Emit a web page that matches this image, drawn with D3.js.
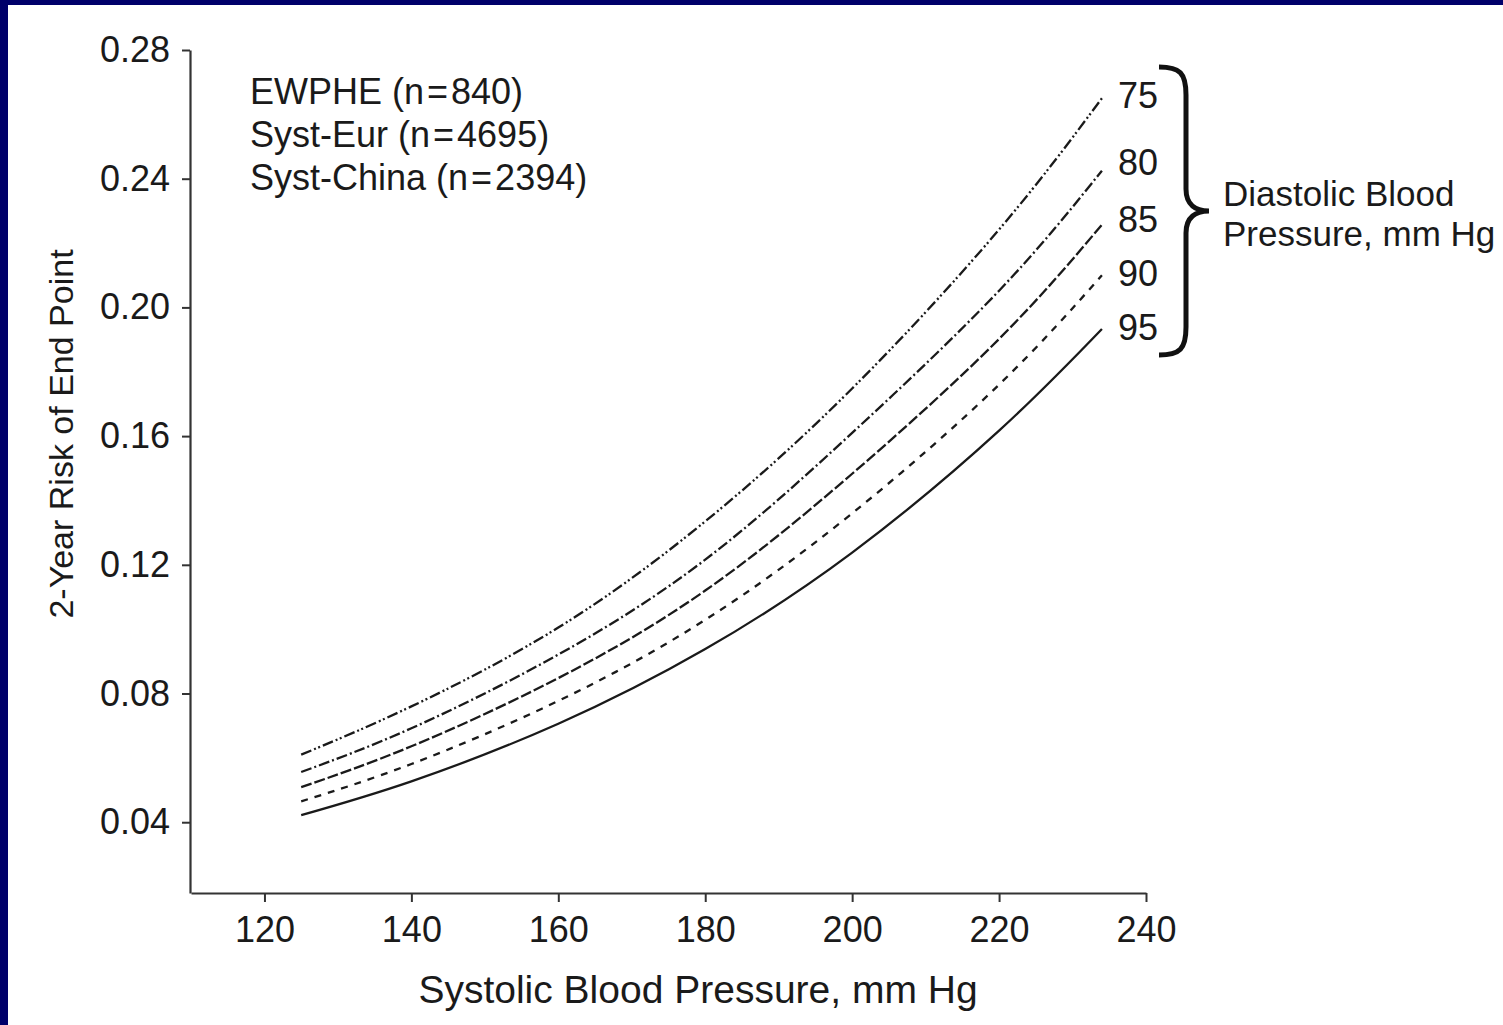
<!DOCTYPE html>
<html>
<head>
<meta charset="utf-8">
<script src="https://cdn.jsdelivr.net/npm/d3@7"></script>
<style>
  html, body { margin: 0; padding: 0; background: #fff; }
  #chart { width: 1503px; height: 1025px; }
  text { font-family: 'Liberation Sans', Arial, sans-serif; fill: #1a1a1a; }
</style>
</head>
<body>
<div id="chart"></div>
<script>
// systolic pressure samples (mm Hg)
const SBP = [125, 140, 160, 180, 200, 220, 234]

// diastolic groups and the 2-year risk
const DBP = ['75', '80', '85', '90', '95']
const RISK_75 = [0.061, 0.076, 0.1005, 0.1335, 0.1748, 0.2242, 0.265]
const RISK_80 = [0.0556, 0.0692, 0.0921, 0.1216, 0.1610, 0.2052, 0.2425]
const RISK_85 = [0.0509, 0.0636, 0.0848, 0.1120, 0.1483, 0.1902, 0.2257]
const RISK_90 = [0.0465, 0.0581, 0.0777, 0.1029, 0.1360, 0.1760, 0.2100]
const RISK_95 = [0.0422, 0.0527, 0.0706, 0.0938, 0.1238, 0.1617, 0.1933]

const X_TICKS = [120, 140, 160, 180, 200, 220, 240]
const Y_TICKS = [0.04, 0.08, 0.12, 0.16, 0.20, 0.24, 0.28]

const STUDIES = [
  'EWPHE (n\u200A=\u200A840)',
  'Syst-Eur (n\u200A=\u200A4695)',
  'Syst-China (n\u200A=\u200A2394)'
]

const DASHES = {
  '75': '11,3,2,2.5,2,3',
  '80': '11,3,2,3',
  '85': '11,3',
  '90': '7,7',
  '95': null
}

const series = DBP.map((d, i) => ({
  dbp: d,
  values: [RISK_75, RISK_80, RISK_85, RISK_90, RISK_95][i].map((r, j) => ({ sbp: SBP[j], risk: r }))
}))

const width = 1503
const height = 1025
const ink = '#1a1a1a'

const svg = d3.select('#chart').append('svg')
  .attr('width', width)
  .attr('height', height)

// navy frame strips (top + left), as in the slide
svg.append('rect').attr('x', 0).attr('y', 0).attr('width', width).attr('height', 5).attr('fill', '#00006a')
svg.append('rect').attr('x', 0).attr('y', 0).attr('width', 8).attr('height', height).attr('fill', '#00006a')

const x = d3.scaleLinear().domain([110, 240]).range([191, 1146])
const y = d3.scaleLinear().domain([0.018, 0.28]).range([893, 50])

const xAxis = svg.append('g')
  .attr('transform', `translate(0,${y.range()[0]})`)
  .call(d3.axisBottom(x).tickValues(X_TICKS).tickSize(9).tickPadding(14).tickSizeOuter(0))

const yAxis = svg.append('g')
  .attr('transform', `translate(${x.range()[0] - 1},0)`)
  .call(d3.axisLeft(y).tickValues(Y_TICKS).tickFormat(d3.format('.2f')).tickSize(8).tickPadding(12).tickSizeOuter(0))

;[xAxis, yAxis].forEach(g => {
  g.select('.domain').attr('stroke', '#333').attr('stroke-width', 2.2)
  g.selectAll('.tick line').attr('stroke', '#333').attr('stroke-width', 2)
  g.selectAll('.tick text')
    .attr('font-family', "'Liberation Sans', Arial, sans-serif")
    .attr('font-size', 36)
    .attr('fill', ink)
})

// axis titles
svg.append('text')
  .attr('x', 698).attr('y', 1003)
  .attr('text-anchor', 'middle')
  .attr('font-size', 39)
  .text('Systolic Blood Pressure, mm Hg')

svg.append('text')
  .attr('transform', 'translate(73,434) rotate(-90)')
  .attr('text-anchor', 'middle')
  .attr('font-size', 34)
  .text('2-Year Risk of End Point')

// study list
svg.append('g').selectAll('text')
  .data(STUDIES)
  .join('text')
  .attr('x', 250)
  .attr('y', (d, i) => 104 + i * 43)
  .attr('font-size', 36)
  .text(d => d)

// curves
const line = d3.line()
  .x(d => x(d.sbp))
  .y(d => y(d.risk))
  .curve(d3.curveNatural)

svg.append('g').selectAll('path')
  .data(series)
  .join('path')
  .attr('d', d => line(d.values))
  .attr('fill', 'none')
  .attr('stroke', ink)
  .attr('stroke-width', 2.3)
  .attr('stroke-dasharray', d => DASHES[d.dbp])

// diastolic labels at the curve ends
const labelNudge = { '75': -3, '80': -9, '85': -6, '90': -2, '95': -2 }
svg.append('g').selectAll('text')
  .data(series)
  .join('text')
  .attr('x', d => x(d.values[d.values.length - 1].sbp) + 16)
  .attr('y', d => y(d.values[d.values.length - 1].risk) + labelNudge[d.dbp] + 13)
  .attr('font-size', 36)
  .text(d => d.dbp)

// curly brace grouping the labels
const bTop = 67, bBot = 355, bMid = 211, bx = 1186
svg.append('path')
  .attr('d', `M1159,${bTop} C1180,${bTop} ${bx},${bTop + 6} ${bx},${bTop + 28}
    L${bx},${bMid - 22} C${bx},${bMid - 6} 1196,${bMid} 1209,${bMid}
    C1196,${bMid} ${bx},${bMid + 6} ${bx},${bMid + 22}
    L${bx},${bBot - 28} C${bx},${bBot - 6} 1180,${bBot} 1159,${bBot}`)
  .attr('fill', 'none')
  .attr('stroke', '#111')
  .attr('stroke-width', 5)

svg.append('g').selectAll('text')
  .data(['Diastolic Blood', 'Pressure, mm Hg'])
  .join('text')
  .attr('x', 1223)
  .attr('y', (d, i) => 206 + i * 40)
  .attr('font-size', 35)
  .text(d => d)
</script>
</body>
</html>
